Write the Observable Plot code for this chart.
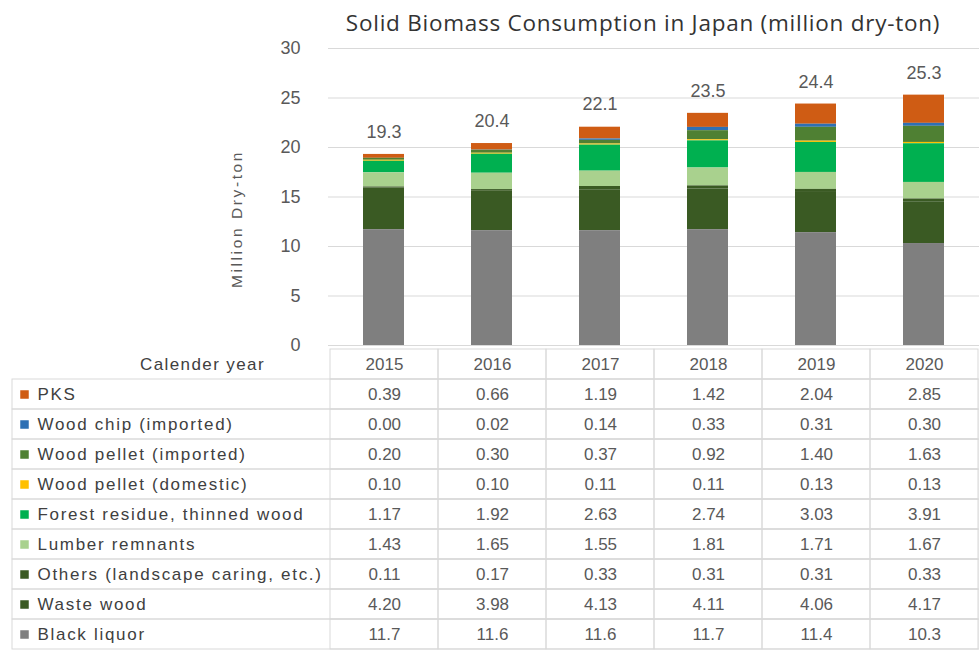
<!DOCTYPE html>
<html>
<head>
<meta charset="utf-8">
<script src="https://cdn.jsdelivr.net/npm/d3@7"></script>
<script src="https://cdn.jsdelivr.net/npm/@observablehq/plot@0.6"></script>
<style>
  body { margin: 0; background: #fff; }
  #wrap { position: relative; width: 979px; height: 655px; overflow: hidden; background: #fff; }
  #title { position: absolute; left: 318px; width: 650px; top: 9px; text-align: center;
           font: 22.5px "Open Sans", sans-serif; letter-spacing: 0.75px; color: #333; line-height: 1.2; }
  #chart { position: absolute; left: 0; top: 36px; }
  #table { position: absolute; left: 0; top: 345px; }
  g[aria-description="series names"] text { letter-spacing: 1.7px; }
  g[aria-description="header label"] text { letter-spacing: 1.4px; }
  g[aria-description="axis title"] text { letter-spacing: 2.6px; }
</style>
</head>
<body>
<div id="wrap">
  <div id="title">Solid Biomass Consumption in Japan (million dry-ton)</div>
  <div id="chart"></div>
  <div id="table"></div>
</div>
<script>
// Calendar years
const years = ["2015", "2016", "2017", "2018", "2019", "2020"];

// Fuel types, listed from the top of the stack down (same order as the table rows)
const series = [
  "PKS",
  "Wood chip (imported)",
  "Wood pellet (imported)",
  "Wood pellet (domestic)",
  "Forest residue, thinned wood",
  "Lumber remnants",
  "Others (landscape caring, etc.)",
  "Waste wood",
  "Black liquor"
];
const colors = ["#cf5c14", "#2e70b4", "#4f8033", "#ffc000", "#00b050", "#a9d18e", "#3a5a23", "#3a5a23", "#7f7f7f"];

// Consumption, million dry-ton
const pks                = [0.39, 0.66, 1.19, 1.42, 2.04, 2.85];
const woodChipImported   = [0.00, 0.02, 0.14, 0.33, 0.31, 0.30];
const woodPelletImported = [0.20, 0.30, 0.37, 0.92, 1.40, 1.63];
const woodPelletDomestic = [0.10, 0.10, 0.11, 0.11, 0.13, 0.13];
const forestResidue      = [1.17, 1.92, 2.63, 2.74, 3.03, 3.91];
const lumberRemnants     = [1.43, 1.65, 1.55, 1.81, 1.71, 1.67];
const others             = [0.11, 0.17, 0.33, 0.31, 0.31, 0.33];
const wasteWood          = [4.20, 3.98, 4.13, 4.11, 4.06, 4.17];
const blackLiquor        = [11.7, 11.6, 11.6, 11.7, 11.4, 10.3];

// Annual totals shown above the bars
const totals = [19.3, 20.4, 22.1, 23.5, 24.4, 25.3];

const yTicks = [0, 5, 10, 15, 20, 25, 30];

const valuesBySeries = [pks, woodChipImported, woodPelletImported, woodPelletDomestic,
  forestResidue, lumberRemnants, others, wasteWood, blackLiquor];

// Long-format rows for the stacked bars and the data table
const rows = [];
series.forEach((s, i) => {
  years.forEach((y, j) => rows.push({series: s, year: y, value: valuesBySeries[i][j]}));
});
const totalRows = years.map((y, j) => ({year: y, total: totals[j]}));

const fmtValue = d => d.series === "Black liquor" ? d3.format(".1f")(d.value) : d3.format(".2f")(d.value);

const textGray = "#595959";
const gridGray = "#d9d9d9";
const font = "'Liberation Sans', Arial, sans-serif";

// ---- Stacked bar chart ----
const chart = Plot.plot({
  width: 979,
  height: 309,
  marginTop: 12,
  marginBottom: 0,
  marginLeft: 328,
  marginRight: 0,
  style: {fontFamily: font, fontSize: "18px", color: textGray, overflow: "visible", background: "transparent"},
  x: {type: "band", domain: years, paddingInner: 0.62, paddingOuter: 0.31, axis: null},
  y: {domain: [0, 30], ticks: yTicks, tickSize: 0, tickPadding: 28, tickFormat: d3.format("d"), label: null},
  color: {domain: series, range: colors},
  marks: [
    Plot.ruleY(yTicks, {stroke: gridGray, strokeWidth: 1}),
    Plot.barY(rows, Plot.stackY({
      x: "year",
      y: "value",
      fill: "series",
      order: series.slice().reverse()
    })),
    Plot.text(totalRows, {x: "year", y: "total", text: d => d3.format(".1f")(d.total), dy: -22,
      fontSize: 18, fill: textGray}),
    Plot.text(["Million Dry-ton"], {frameAnchor: "left", textAnchor: "middle", dx: -91, dy: 22, rotate: -90,
      text: d => d, fontSize: 15.5, fill: textGray, ariaDescription: "axis title"})
  ]
});
document.getElementById("chart").appendChild(chart);

// ---- Data table with legend keys ----
const header = "Calender year";
const table = Plot.plot({
  width: 979,
  height: 310,
  marginTop: 0,
  marginBottom: 2,
  marginLeft: 12,
  marginRight: 0,
  style: {fontFamily: font, fontSize: "17px", color: textGray, overflow: "visible", background: "transparent"},
  x: {type: "band", domain: years, padding: 0, range: [328, 979], axis: null},
  y: {type: "band", domain: [header, ...series], padding: 0, axis: null},
  color: {domain: series, range: colors},
  marks: [
    // row borders across the full table width
    Plot.cell(series, {y: d => d, fill: "none", stroke: gridGray}),
    // year column borders, header row included
    Plot.cell(years, {x: d => d, y: () => header, fill: "none", stroke: gridGray}),
    Plot.cell(rows, {x: "year", y: "series", fill: "none", stroke: gridGray}),
    // header labels
    Plot.text(years, {x: d => d, y: () => header, text: d => d, fill: textGray, fontSize: 17}),
    Plot.text([header], {y: d => d, frameAnchor: "left", textAnchor: "middle", dx: 190, text: d => d,
      fill: "#404040", fontSize: 17, ariaDescription: "header label"}),
    // values
    Plot.text(rows, {x: "year", y: "series", text: fmtValue, fill: textGray, fontSize: 17}),
    // legend keys and series names
    Plot.dot(series, {y: d => d, frameAnchor: "left", dx: 12, symbol: "square", r: 4.8, fill: d => d}),
    Plot.text(series, {y: d => d, frameAnchor: "left", dx: 25, textAnchor: "start", text: d => d,
      fill: "#404040", fontSize: 17, ariaDescription: "series names"})
  ]
});
document.getElementById("table").appendChild(table);
</script>
</body>
</html>
